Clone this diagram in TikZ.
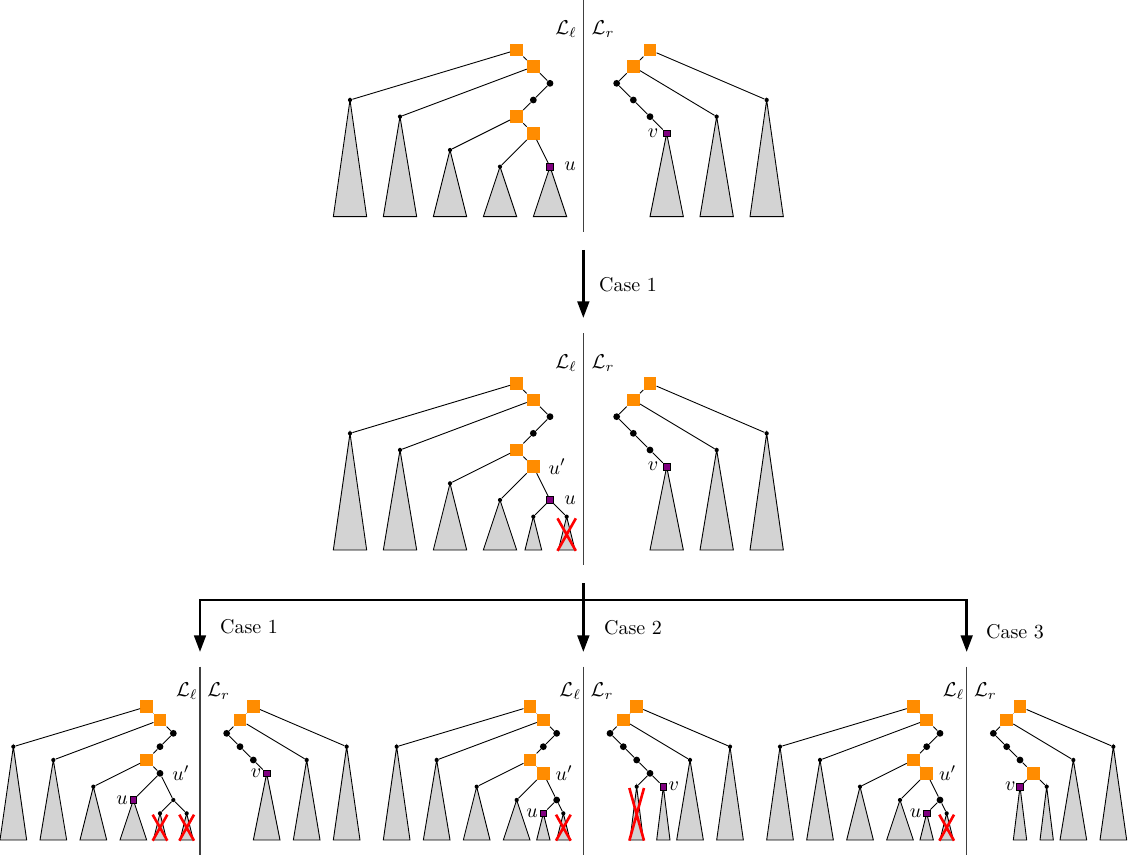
\documentclass[tikz,border=0pt]{standalone}
\usetikzlibrary{arrows.meta}
\definecolor{sqorange}{RGB}{255,140,0}
\definecolor{sqpurple}{RGB}{128,0,128}
\definecolor{trigray}{RGB}{211,211,211}
\tikzset{
 onode/.style={rectangle, fill=sqorange, minimum size=6.2pt, inner sep=0pt},
 pnode/.style={rectangle, fill=sqpurple, draw=black, line width=0.4pt, minimum size=3.4pt, inner sep=0pt},
 bdot/.style={circle, fill=black, minimum size=3.4pt, inner sep=0pt},
 sdot/.style={circle, fill=black, minimum size=2.1pt, inner sep=0pt},
 lnk/.style={line width=0.45pt},
 tri/.style={fill=trigray, draw=black, line width=0.45pt, line join=miter},
 sepline/.style={line width=0.7pt, draw=black!75},
 xcross/.style={draw=red, line width=1.3pt},
 lab/.style={inner sep=0pt},
 arr/.style={line width=1.35pt, -{Triangle[width=5.8pt,length=8.3pt]}},
 flow/.style={line width=1.35pt},
}
\newcommand\tri[3]{\draw[tri] (#1,#2) -- ({#1-#3},13) -- ({#1+#3},13) -- cycle;}
\newcommand\redX[3]{\draw[xcross] ({#1-#3-0.05},{#2+0.1}) -- ({#1+#3+0.05},13.05) ({#1+#3+0.05},{#2+0.1}) -- ({#1-#3-0.05},13.05);}
\newcommand\mkLeftTri{\tri{21}{6}{1}\tri{24}{7}{1}\tri{27}{9}{1}}
\newcommand\mkRightTri{\tri{43}{7}{1}\tri{46}{6}{1}}
\newcommand\mkLeft[1]{%
 \node[onode] (#1o1) at (31,3) {};
 \node[onode] (#1o2) at (32,4) {};
 \node[bdot] (#1d1) at (33,5) {};
 \node[bdot] (#1d2) at (32,6) {};
 \node[onode] (#1o3) at (31,7) {};
 \node[sdot] (#1l1) at (21,6) {};
 \node[sdot] (#1l2) at (24,7) {};
 \node[sdot] (#1l3) at (27,9) {};
 \draw[lnk] (#1o1) -- (#1l1);
 \draw[lnk] (#1o1) -- (#1o2);
 \draw[lnk] (#1o2) -- (#1l2);
 \draw[lnk] (#1o2) -- (#1d1);
 \draw[lnk] (#1d1) -- (#1d2);
 \draw[lnk] (#1d2) -- (#1o3);
 \draw[lnk] (#1o3) -- (#1l3);
}
\newcommand\mkRight[1]{%
 \node[onode] (#1r1) at (39,3) {};
 \node[onode] (#1r2) at (38,4) {};
 \node[bdot] (#1r3) at (37,5) {};
 \node[bdot] (#1r4) at (38,6) {};
 \node[bdot] (#1r5) at (39,7) {};
 \node[sdot] (#1m1) at (43,7) {};
 \node[sdot] (#1m2) at (46,6) {};
 \draw[lnk] (#1r1) -- (#1r2);
 \draw[lnk] (#1r1) -- (#1m2);
 \draw[lnk] (#1r2) -- (#1r3);
 \draw[lnk] (#1r2) -- (#1m1);
 \draw[lnk] (#1r3) -- (#1r4);
 \draw[lnk] (#1r4) -- (#1r5);
}
\newcommand\mkSep[5]{%
 \coordinate (#1top) at (35,0);
 \coordinate (#1bot) at (35,#2);
 \draw[sepline] (#1top) -- (#1bot);
 \node[lab, anchor=base east, xshift=#4] (#1Ll) at (35,#3) {$\mathcal{L}_\ell$};
 \node[lab, anchor=base west, xshift=#5] (#1Lr) at (35,#3) {$\mathcal{L}_r$};
}
\begin{document}
\begin{tikzpicture}[x=0.5pt,y=-0.5pt]
\useasboundingbox (0,0) rectangle (1128,855);

% ---------- top diagram ----------
\begin{scope}[x=8.3333pt,y=-8.3333pt]
 \mkLeftTri \tri{30}{10}{1}\tri{33}{10}{1}
 \mkRightTri \tri{40}{8}{1}
 \mkLeft{A}
 \node[onode] (Ao4) at (32,8) {};
 \node[sdot] (Al4) at (30,10) {};
 \node[pnode] (Au) at (33,10) {};
 \draw[lnk] (Ao3) -- (Ao4);
 \draw[lnk] (Ao4) -- (Al4);
 \draw[lnk] (Ao4) -- (Au);
 \node[lab, anchor=west, xshift=7pt] (Aul) at (Au.center) {$u$};
 \mkRight{A}
 \node[pnode] (Av) at (40,8) {};
 \draw[lnk] (Ar5) -- (Av);
 \node[lab, anchor=east, xshift=-4pt] (Avl) at (Av.center) {$v$};
 \mkSep{A}{13.9}{2.1}{-3pt}{4pt}
\end{scope}

% ---------- middle diagram ----------
\begin{scope}[shift={(0pt,-166.667pt)},x=8.3333pt,y=-8.3333pt]
 \mkLeftTri \tri{30}{10}{1}\tri{32}{11}{0.5}\tri{34}{11}{0.5}
 \mkRightTri \tri{40}{8}{1}
 \mkLeft{B}
 \node[onode] (Bo4) at (32,8) {};
 \node[sdot] (Bl4) at (30,10) {};
 \node[pnode] (Bu) at (33,10) {};
 \node[sdot] (Bc1) at (32,11) {};
 \node[sdot] (Bc2) at (34,11) {};
 \draw[lnk] (Bo3) -- (Bo4);
 \draw[lnk] (Bo4) -- (Bl4);
 \draw[lnk] (Bo4) -- (Bu);
 \draw[lnk] (Bu) -- (Bc1);
 \draw[lnk] (Bu) -- (Bc2);
 \redX{34}{11}{0.5}
 \node[lab, anchor=west, xshift=7.5pt] (Bupl) at (Bo4.center) {$u'$};
 \node[lab, anchor=west, xshift=7pt] (Bul) at (Bu.center) {$u$};
 \mkRight{B}
 \node[pnode] (Bv) at (40,8) {};
 \draw[lnk] (Br5) -- (Bv);
 \node[lab, anchor=east, xshift=-4pt] (Bvl) at (Bv.center) {$v$};
 \mkSep{B}{13.9}{2.1}{-3pt}{4pt}
\end{scope}

% ---------- bottom left ----------
\begin{scope}[shift={(-133.333pt,-333.333pt)},x=6.6667pt,y=-6.6667pt]
 \mkLeftTri \tri{30}{10}{1}\tri{32}{11}{0.5}\tri{34}{11}{0.5}
 \mkRightTri \tri{40}{8}{1}
 \mkLeft{C}
 \node[bdot] (Cup) at (32,8) {};
 \node[pnode] (Cu) at (30,10) {};
 \node[sdot] (Ce) at (33,10) {};
 \node[sdot] (Cc1) at (32,11) {};
 \node[sdot] (Cc2) at (34,11) {};
 \draw[lnk] (Co3) -- (Cup);
 \draw[lnk] (Cup) -- (Cu);
 \draw[lnk] (Cup) -- (Ce);
 \draw[lnk] (Ce) -- (Cc1);
 \draw[lnk] (Ce) -- (Cc2);
 \redX{32}{11}{0.5}\redX{34}{11}{0.5}
 \node[lab, anchor=west, xshift=6pt] (Cupl) at (Cup.center) {$u'$};
 \node[lab, anchor=east, xshift=-2.5pt] (Cul) at (Cu.center) {$u$};
 \mkRight{C}
 \node[pnode] (Cv) at (40,8) {};
 \draw[lnk] (Cr5) -- (Cv);
 \node[lab, anchor=east, xshift=-2.5pt] (Cvl) at (Cv.center) {$v$};
 \mkSep{C}{14.2}{2.2}{-1pt}{3.5pt}
\end{scope}

% ---------- bottom middle ----------
\begin{scope}[shift={(58.333pt,-333.333pt)},x=6.6667pt,y=-6.6667pt]
 \mkLeftTri \tri{30}{10}{1}\tri{32}{11}{0.5}\tri{33.5}{11}{0.5}
 \mkRightTri \tri{39}{9}{0.5}\tri{41}{9}{0.5}
 \mkLeft{D}
 \node[onode] (Do4) at (32,8) {};
 \node[sdot] (Dl4) at (30,10) {};
 \node[bdot] (De) at (33,10) {};
 \node[pnode] (Du) at (32,11) {};
 \node[sdot] (Dc) at (33.5,11) {};
 \draw[lnk] (Do3) -- (Do4);
 \draw[lnk] (Do4) -- (Dl4);
 \draw[lnk] (Do4) -- (De);
 \draw[lnk] (De) -- (Du);
 \draw[lnk] (De) -- (Dc);
 \redX{33.5}{11}{0.5}
 \node[lab, anchor=west, xshift=6pt] (Dupl) at (Do4.center) {$u'$};
 \node[lab, anchor=east, xshift=-2.5pt] (Dul) at (Du.center) {$u$};
 \mkRight{D}
 \node[bdot] (Dr6) at (40,8) {};
 \node[sdot] (Dx) at (39,9) {};
 \node[pnode] (Dv) at (41,9) {};
 \draw[lnk] (Dr5) -- (Dr6);
 \draw[lnk] (Dr6) -- (Dx);
 \draw[lnk] (Dr6) -- (Dv);
 \redX{39}{9}{0.5}
 \node[lab, anchor=west, xshift=2.5pt] (Dvl) at (Dv.center) {$v$};
 \mkSep{D}{14.2}{2.2}{-1pt}{3.5pt}
\end{scope}

% ---------- bottom right ----------
\begin{scope}[shift={(250pt,-333.333pt)},x=6.6667pt,y=-6.6667pt]
 \mkLeftTri \tri{30}{10}{1}\tri{32}{11}{0.5}\tri{33.5}{11}{0.5}
 \mkRightTri \tri{39}{9}{0.5}\tri{41}{9}{0.5}
 \mkLeft{E}
 \node[onode] (Eo4) at (32,8) {};
 \node[sdot] (El4) at (30,10) {};
 \node[bdot] (Ee) at (33,10) {};
 \node[pnode] (Eu) at (32,11) {};
 \node[sdot] (Ec) at (33.5,11) {};
 \draw[lnk] (Eo3) -- (Eo4);
 \draw[lnk] (Eo4) -- (El4);
 \draw[lnk] (Eo4) -- (Ee);
 \draw[lnk] (Ee) -- (Eu);
 \draw[lnk] (Ee) -- (Ec);
 \redX{33.5}{11}{0.5}
 \node[lab, anchor=west, xshift=6pt] (Eupl) at (Eo4.center) {$u'$};
 \node[lab, anchor=east, xshift=-2.5pt] (Eul) at (Eu.center) {$u$};
 \mkRight{E}
 \node[onode] (Eo5) at (40,8) {};
 \node[pnode] (Ev) at (39,9) {};
 \node[sdot] (Ed) at (41,9) {};
 \draw[lnk] (Er5) -- (Eo5);
 \draw[lnk] (Eo5) -- (Ev);
 \draw[lnk] (Eo5) -- (Ed);
 \node[lab, anchor=east, xshift=-2pt] (Evl) at (Ev.center) {$v$};
 \mkSep{E}{14.2}{2.2}{-1pt}{3.5pt}
\end{scope}

% ---------- arrows ----------
\coordinate (t0) at (583.33,250);
\coordinate (t1) at (583.33,318);
\draw[arr] (t0) -- (t1);
\node (case0) at (628,285) {Case 1};
\coordinate (s0) at (583.33,583);
\coordinate (hm) at (583.33,600);
\coordinate (sm) at (583.33,652);
\coordinate (sl) at (200,652);
\coordinate (sr) at (966.67,652);
\draw[arr] (hm) -| (sl);
\draw[arr] (hm) -| (sr);
\draw[arr] (s0) -- (sm);
\node (case1) at (249,627) {Case 1};
\node (case2) at (633,628) {Case 2};
\node (case3) at (1015,632) {Case 3};
\end{tikzpicture}
\end{document}
